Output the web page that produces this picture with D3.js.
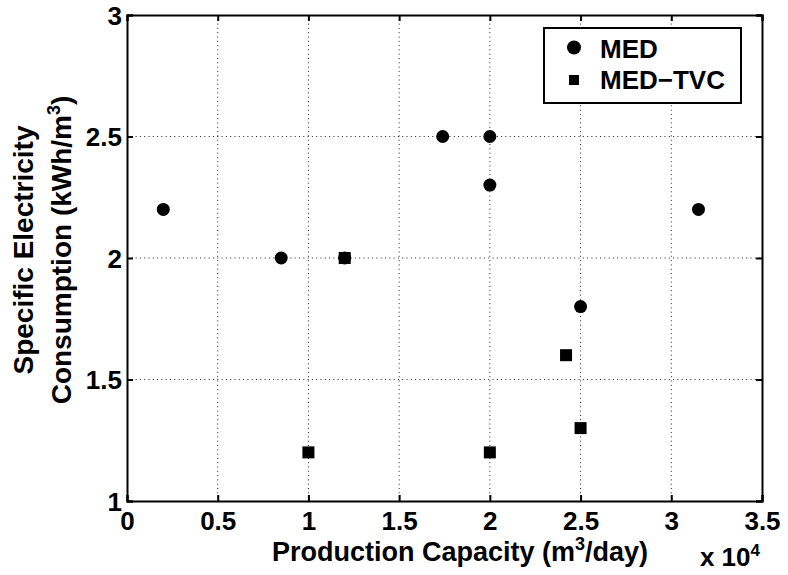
<!DOCTYPE html>
<html>
<head>
<meta charset="utf-8">
<script src="https://cdn.jsdelivr.net/npm/d3@7"></script>
<style>
  body { margin: 0; background: #fff; }
  text { font-family: "Liberation Sans", Arial, Helvetica, sans-serif; font-weight: bold; fill: #000; }
</style>
</head>
<body>
<div id="chart"></div>
<script>
// data (production capacity in m3/day, specific electricity in kWh/m3)
var medX = [2000, 8500, 12000, 17400, 20000, 20000, 25000, 31500];
var medY = [2.2, 2.0, 2.0, 2.5, 2.5, 2.3, 1.8, 2.2];
var tvcX = [10000, 12000, 20000, 24200, 25000];
var tvcY = [1.2, 2.0, 1.2, 1.6, 1.3];
var xTicks = [0, 5000, 10000, 15000, 20000, 25000, 30000, 35000];
var yTicks = [1, 1.5, 2, 2.5, 3];

// set the dimensions and margins of the graph
var margin = { top: 15, right: 26, bottom: 74, left: 127 },
    width = 788 - margin.left - margin.right,
    height = 575 - margin.top - margin.bottom;

var svg = d3.select("#chart")
    .append("svg")
    .attr("width", 788)
    .attr("height", 575)
    .append("g")
    .attr("transform", "translate(" + margin.left + "," + margin.top + ")");

var x = d3.scaleLinear().domain([0, 35000]).range([0, width]);
var y = d3.scaleLinear().domain([1, 3]).range([height, 0]);

// grid lines (dotted)
svg.append("g").selectAll("line")
    .data(xTicks.slice(1, -1))
    .enter().append("line")
    .attr("x1", function (d) { return x(d); })
    .attr("x2", function (d) { return x(d); })
    .attr("y1", 0).attr("y2", height)
    .attr("stroke", "#222").attr("stroke-width", 1)
    .attr("stroke-dasharray", "1,3.3");
svg.append("g").selectAll("line")
    .data(yTicks.slice(1, -1))
    .enter().append("line")
    .attr("y1", function (d) { return y(d); })
    .attr("y2", function (d) { return y(d); })
    .attr("x1", 0).attr("x2", width)
    .attr("stroke", "#222").attr("stroke-width", 1)
    .attr("stroke-dasharray", "1,3.3");

// axes (ticks inside, box on)
var fmtX = function (d) { return d3.format("~g")(d / 10000); };
var xBottom = svg.append("g")
    .attr("transform", "translate(0," + height + ")")
    .call(d3.axisBottom(x).tickValues(xTicks).tickSize(-6).tickPadding(11).tickFormat(fmtX));
var xTop = svg.append("g")
    .call(d3.axisTop(x).tickValues(xTicks).tickSize(-6).tickFormat(""));
var yLeft = svg.append("g")
    .call(d3.axisLeft(y).tickValues(yTicks).tickSize(-6).tickPadding(5).tickFormat(d3.format("~g")));
var yRight = svg.append("g")
    .attr("transform", "translate(" + width + ",0)")
    .call(d3.axisRight(y).tickValues(yTicks).tickSize(-6).tickFormat(""));

[xBottom, xTop, yLeft, yRight].forEach(function (g) {
    g.select(".domain").attr("stroke", "#000").attr("stroke-width", 2);
    g.selectAll(".tick line").attr("stroke", "#000").attr("stroke-width", 2);
    g.selectAll(".tick text")
        .style("font-size", "26px")
        .style("font-family", "Liberation Sans, Arial, sans-serif")
        .style("font-weight", "bold");
});
xBottom.selectAll(".tick text").attr("dy", "0.71em");
yLeft.selectAll(".tick text").attr("dy", "0.36em");

// data points
svg.append("g").selectAll("rect")
    .data(tvcX)
    .enter().append("rect")
    .attr("x", function (d) { return x(d) - 6; })
    .attr("y", function (d, i) { return y(tvcY[i]) - 6; })
    .attr("width", 12).attr("height", 12)
    .attr("fill", "#000");
svg.append("g").selectAll("circle")
    .data(medX)
    .enter().append("circle")
    .attr("cx", function (d) { return x(d); })
    .attr("cy", function (d, i) { return y(medY[i]); })
    .attr("r", 6.5)
    .attr("fill", "#000");

// legend
var legend = svg.append("g").attr("transform", "translate(" + (544 - margin.left) + "," + (28 - margin.top) + ")");
legend.append("rect")
    .attr("width", 197).attr("height", 75)
    .attr("fill", "#fff").attr("stroke", "#000").attr("stroke-width", 2);
legend.append("circle").attr("cx", 30).attr("cy", 19.5).attr("r", 7).attr("fill", "#000");
legend.append("rect").attr("x", 25).attr("y", 47).attr("width", 10).attr("height", 10).attr("fill", "#000");
legend.append("text").attr("x", 56).attr("y", 30).style("font-size", "26px").text("MED");
legend.append("text").attr("x", 56).attr("y", 61).style("font-size", "26px").text("MED\u2212TVC");

// X axis label
var xl = svg.append("text")
    .attr("text-anchor", "end")
    .attr("x", 648 - margin.left)
    .attr("y", height + 60)
    .style("font-size", "27px");
xl.append("tspan").text("Production Capacity (m");
xl.append("tspan").attr("dy", -11).style("font-size", "18px").text("3");
xl.append("tspan").attr("dy", 11).text("/day)");

// x 10^4 multiplier
var mul = svg.append("text")
    .attr("text-anchor", "end")
    .attr("x", width - 2)
    .attr("y", height + 65)
    .style("font-size", "26px");
mul.append("tspan").text("x 10");
mul.append("tspan").attr("dy", -10).style("font-size", "17px").text("4");

// Y axis label (two lines)
var yl = svg.append("g")
    .attr("transform", "translate(" + (-margin.left) + "," + (250 - margin.top) + ") rotate(-90)");
yl.append("text")
    .attr("text-anchor", "middle")
    .attr("x", 0).attr("y", 33)
    .style("font-size", "28px")
    .text("Specific Electricity");
var yl2 = yl.append("text")
    .attr("text-anchor", "middle")
    .attr("x", 0).attr("y", 71)
    .style("font-size", "28px");
yl2.append("tspan").text("Consumption (kWh/m");
yl2.append("tspan").attr("dy", -11).style("font-size", "18px").text("3");
yl2.append("tspan").attr("dy", 11).text(")");
</script>
</body>
</html>
